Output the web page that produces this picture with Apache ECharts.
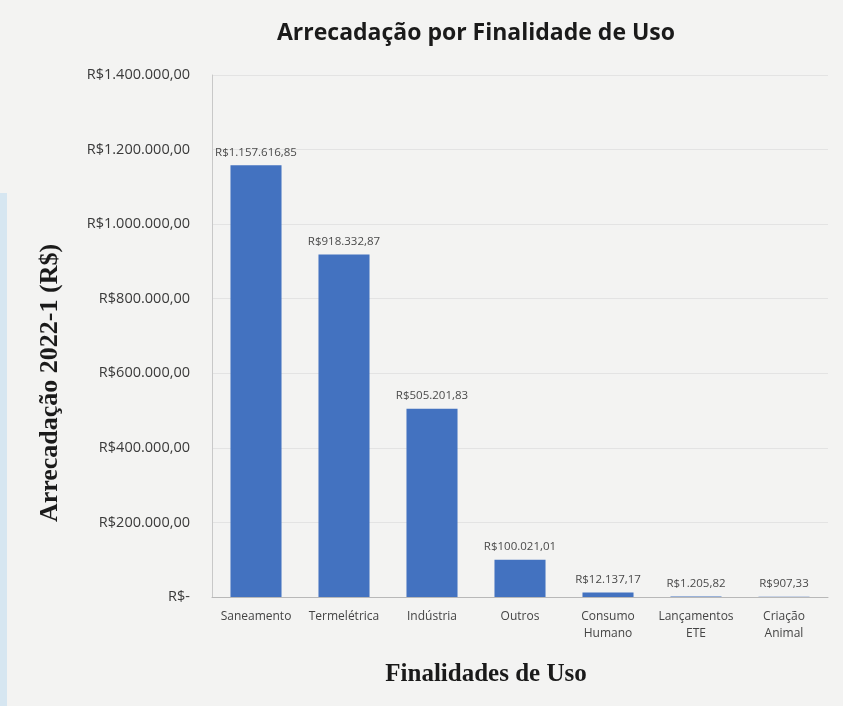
<!DOCTYPE html>
<html><head><meta charset="utf-8">
<script src="https://cdn.jsdelivr.net/npm/echarts@6/dist/echarts.min.js"></script>
<style>html,body{margin:0;padding:0;background:#f3f3f2;}#c{width:843px;height:706px;}</style>
</head><body><div id="c"></div>
<script>
const categories = ['Saneamento','Termelétrica','Indústria','Outros','Consumo\nHumano','Lançamentos\nETE','Criação\nAnimal'];
const values = [1157616.85, 918332.87, 505201.83, 100021.01, 12137.17, 1205.82, 907.33];
const yTicks = [0, 200000, 400000, 600000, 800000, 1000000, 1200000, 1400000];

function brl(v){
  if (v === 0) return 'R$-';
  const parts = v.toFixed(2).split('.');
  const intp = parts[0].replace(/\B(?=(\d{3})+(?!\d))/g, '.');
  return 'R$' + intp + ',' + parts[1];
}

const chart = echarts.init(document.getElementById('c'));
chart.setOption({
  backgroundColor: '#f3f3f2',
  title: {
    text: 'Arrecadação por Finalidade de Uso',
    left: 471, top: 17, textAlign: 'center',
    textStyle: {fontFamily: 'Open Sans', fontSize: 23, fontWeight: 'bold', color: '#1a1a1a'}
  },
  graphic: [
    {type: 'rect', shape: {x: 0, y: 193, width: 7, height: 520}, style: {fill: '#d6e6f1'}, z: -1},
    {type: 'text', x: 486, y: 675, style: {text: 'Finalidades de Uso', fill: '#1a1a1a', font: 'bold 25px "Liberation Serif"', textAlign: 'center', textVerticalAlign: 'middle'}},
    {type: 'text', x: 50, y: 383, rotation: Math.PI / 2, style: {text: 'Arrecadação 2022-1 (R$)', fill: '#1a1a1a', font: 'bold 26px "Liberation Serif"', textAlign: 'center', textVerticalAlign: 'middle'}}
  ],
  grid: {left: 212, right: 15, top: 75, bottom: 109},
  xAxis: {
    type: 'category', data: categories,
    axisLine: {lineStyle: {color: '#b8b8b8'}},
    axisTick: {show: false},
    axisLabel: {interval: 0, color: '#444', fontSize: 12, fontFamily: 'Open Sans', lineHeight: 17, margin: 11}
  },
  yAxis: {
    type: 'value', min: 0, max: 1400000, interval: 200000,
    axisLine: {show: true, lineStyle: {color: '#c8c8c8'}},
    axisTick: {show: false},
    splitLine: {lineStyle: {color: '#e3e3e3'}},
    axisLabel: {color: '#3a3a3a', fontSize: 14.5, fontFamily: 'Open Sans', margin: 22, formatter: v => brl(v)}
  },
  series: [{
    type: 'bar', data: values, barWidth: '58%',
    itemStyle: {color: '#4372c0'},
    label: {show: true, position: 'top', distance: 7, fontSize: 11.5, color: '#4a4a4a', fontFamily: 'Open Sans', formatter: p => brl(p.value)}
  }]
});
</script></body></html>
